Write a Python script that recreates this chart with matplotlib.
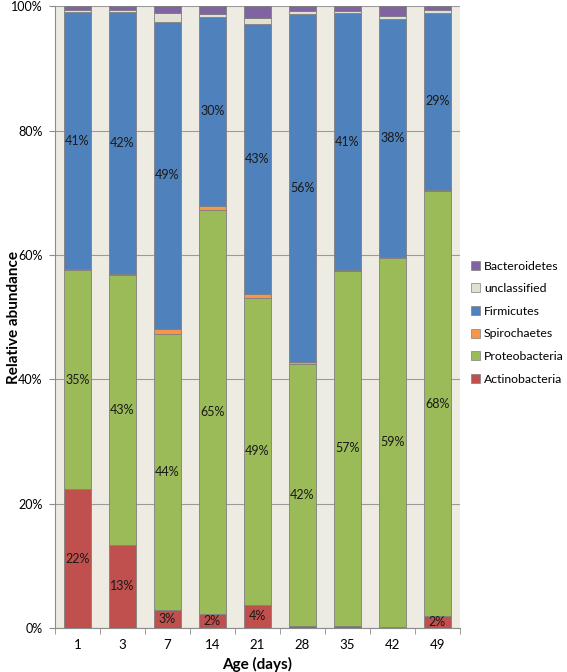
import numpy as np
import matplotlib
matplotlib.use('Agg')
import matplotlib.pyplot as plt
from matplotlib.patches import Patch
from matplotlib.ticker import FuncFormatter, FixedLocator

plt.rcParams['font.family'] = ['Lato', 'DejaVu Sans']

ages = ['1', '3', '7', '14', '21', '28', '35', '42', '49']

# relative abundance (%) per phylum, bottom to top
actinobacteria = [22.3, 13.4, 2.9, 2.3, 3.7, 0.3, 0.3, 0.2, 1.9]
proteobacteria = [35.3, 43.4, 44.4, 65.0, 49.4, 42.2, 57.2, 59.4, 68.4]
spirochaetes = [0.1, 0.1, 0.8, 0.6, 0.7, 0.3, 0.1, 0.1, 0.1]
firmicutes = [41.4, 42.2, 49.4, 30.4, 43.4, 55.9, 41.3, 38.3, 28.6]
unclassified = [0.3, 0.3, 1.5, 0.4, 1.0, 0.6, 0.4, 0.5, 0.4]
bacteroidetes = [0.6, 0.6, 1.0, 1.3, 1.8, 0.7, 0.7, 1.5, 0.6]

# (name, values, colour, show data labels)
series = [
    ('Actinobacteria', actinobacteria, '#C0504D', True),
    ('Proteobacteria', proteobacteria, '#9BBB59', True),
    ('Spirochaetes', spirochaetes, '#F79646', False),
    ('Firmicutes', firmicutes, '#4F81BD', True),
    ('unclassified', unclassified, '#E2DFD3', False),
    ('Bacteroidetes', bacteroidetes, '#8064A2', False),
]

fig = plt.figure(figsize=(5.67, 6.72), dpi=100)
ax = fig.add_axes([0.097, 0.0655, 0.714, 0.925])
ax.set_facecolor('#EEECE2')

x = np.arange(len(ages))
bottom = np.zeros(len(ages))
for name, vals, col, lab in series:
    vals = np.array(vals)
    ax.bar(x, vals, 0.6, bottom=bottom, color=col, edgecolor='#7F8080',
           linewidth=0.6, label=name, zorder=3)
    if lab:
        for xi, b, v in zip(x, bottom, vals):
            if v >= 1.5:
                ax.text(xi, b + v / 2, f'{v:.0f}%', ha='center', va='center',
                        fontsize=9, color='#1a1a1a', zorder=4)
    bottom += vals

ax.set_xlim(-0.5, len(ages) - 0.5)
ax.set_ylim(0, 100)
ax.set_yticks(np.arange(0, 101, 20))
ax.yaxis.set_major_formatter(FuncFormatter(lambda v, p: f'{v:.0f}%'))
ax.grid(axis='y', color='#9A9A9A', linewidth=0.8, zorder=0)

ax.set_xticks(x)
ax.set_xticklabels(ages)
ax.xaxis.set_minor_locator(FixedLocator(np.arange(-0.5, len(ages), 1)))
ax.tick_params(axis='x', which='major', length=0, pad=8, labelsize=9.5)
ax.tick_params(axis='x', which='minor', length=4, color='#8C8C8C')
ax.tick_params(axis='y', length=4, color='#8C8C8C', labelsize=9, pad=5)

for s in ['top', 'right']:
    ax.spines[s].set_visible(False)
for s in ['left', 'bottom']:
    ax.spines[s].set_color('#8C8C8C')

ax.set_xlabel('Age (days)', fontsize=11, fontweight='bold', labelpad=4)
ax.set_ylabel('Relative abundance', fontsize=11, fontweight='bold')
ax.yaxis.set_label_coords(-0.085, 0.5)

handles = [Patch(facecolor=c, edgecolor='#7F8080', linewidth=0.5, label=n)
           for n, v, c, lab in series[::-1]]
fig.legend(handles=handles, loc='center left', bbox_to_anchor=(0.83, 0.52),
           frameon=False, fontsize=8.8, handlelength=0.75, handleheight=0.75,
           handletextpad=0.35, labelspacing=0.95, borderpad=0, borderaxespad=0)

fig.savefig('out.png', dpi=100)
